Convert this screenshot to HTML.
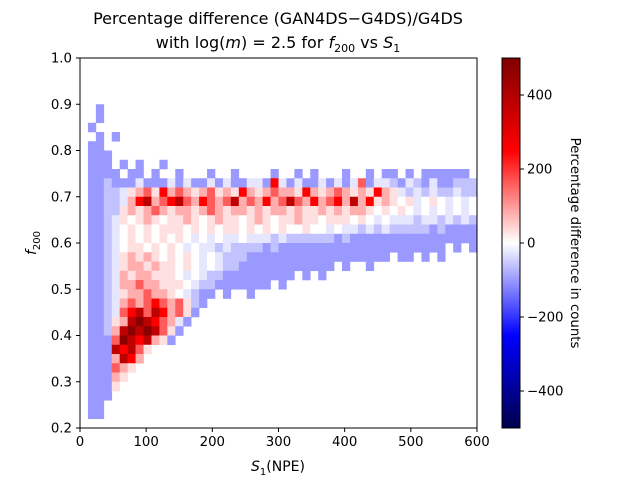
<!DOCTYPE html>
<html><head><meta charset="utf-8">
<style>
html,body{margin:0;padding:0;background:#fff;}
svg{display:block;font-family:"DejaVu Sans","Liberation Sans",sans-serif;}
</style></head>
<body>
<svg id="chart" width="640" height="480" viewBox="0 0 640 480" xmlns="http://www.w3.org/2000/svg">
<rect width="640" height="480" fill="#fff"/>
<g id="title" font-size="16" text-anchor="middle" fill="#000">
<text x="278" y="24">Percentage difference (GAN4DS−G4DS)/G4DS</text>
<text x="278" y="48">with log(<tspan font-style="italic">m</tspan>) = 2.5 for <tspan font-style="italic">f</tspan><tspan font-size="11" dy="4">200</tspan><tspan dy="-4"> vs </tspan><tspan font-style="italic">S</tspan><tspan font-size="11" dy="4">1</tspan></text>
</g>
<g id="cells"></g>
<rect x="80" y="58" width="397" height="370" fill="none" stroke="#000" stroke-width="1"/>
<g id="xticks" font-size="13.3" text-anchor="middle"></g>
<g id="yticks" font-size="13.3" text-anchor="end"></g>
<text x="278" y="471" font-size="14" text-anchor="middle"><tspan font-style="italic">S</tspan><tspan font-size="10" dy="4">1</tspan><tspan dy="-4">(NPE)</tspan></text>
<text transform="translate(36,243) rotate(-90)" font-size="14" text-anchor="middle"><tspan font-style="italic">f</tspan><tspan font-size="10" dy="4">200</tspan></text>
<defs><linearGradient id="cbg" x1="0" y1="1" x2="0" y2="0"></linearGradient></defs>
<rect x="502" y="58" width="18" height="370" fill="url(#cbg)" stroke="#000" stroke-width="1"/>
<g id="cticks" font-size="13.3"></g>
<text transform="translate(571,243) rotate(90)" font-size="13.3" text-anchor="middle">Percentage difference in counts</text>
</svg>
<script>
const xTicks=[0,100,200,300,400,500,600];
const yTicks=[0.2,0.3,0.4,0.5,0.6,0.7,0.8,0.9,1.0];
const cbTicks=[-400,-200,0,200,400];
const levelCodes=['B','b','c','w','p','q','r','R','d','D'];
const levelValues=[-100,-60,-25,0,30,80,160,250,380,480];
const binWidthS1=12, binHeightF=0.02;
const rows=[
"","","","","",
"..B",
"..B",
".B",
"..B.B",
".BB",
".BBB",
".BBB.B.B..B",
".BBBB.BB.B..B...B..B....B..B.B...B..B.BB.B.BBBBBB",
".BBbBBBcBBBcBcBBcBcBBccBRcBcBBcBcBcrBccbBcbBcBBbbb",
".BBbbcpqrpRqrqpqrpqpRqpqrqqpRqpqrqpqpRqpcbcbcbbcbb",
".BBbbcqRdqrRdrqRrqrdqrqRqrdrqRqrRqdqRpqpwpcwpwcwcw",
".BBbbpqpqrqpqqpqrqpqqpqpqqpqppqpqpqqpwpwpwcwcwcwcw",
".BBbcpwpqpwppqpwpqppwpqpwppqppwpppwpwcwcccbccbcbcb",
".BBbcwpwpwpppwpwpwppwpwpwpwwpwwcwccbcbcbbbbbBbBBBBB",
".BBbcwpwpwpwpwcwcwccwcccbcbbbbbbBbBBBBBBBBBBBBBBBB",
".BBbcwppwpwpwcwccbcbbbbBbBBBBBBBBBBBBBBBBBBBBB.B.B",
".BBbcpqpqpwpwpwcwcbbbBBBBBBBBBBBBBBBBBB.BB.B.B",
".BBbcpqqpqppwpwcwcbbBBBBBBBBBBBB.B..B",
".BBbcqpqqpppwcwcbbBBBBBBBBB.B.B",
".BBbcqqrqqpppwcbbBBBBBBB.B",
".BBbcpqqrqqpwcbBB.B..B",
".BBbcqrqrRrqrpbB",
".BBbcrRdrdRqrpB",
".BBbpqdDdRrqcB",
".BBbqdDdDdrpB",
".BBBrDdRdqpB",
".BBBdRdrp",
".BBBqdRq",
".BBBrqp",
".BBBqp",
".BBBp",
".BBB",
".BB",
".BB",
""
];
const X0=80,X1=477,Y0=428,Y1=58;
function xScale(s){return X0+(s-0)/(600-0)*(X1-X0);}
function yScale(f){return Y0-(f-0.2)/(1.0-0.2)*(Y0-Y1);}
function cScale(v){return 243-v/500*185;}
function seismic(v){
  let t=Math.max(-1,Math.min(1,v/500));let r,g,b;
  if(t<=-0.5){let u=(t+1)/0.5;r=0;g=0;b=0.3+0.7*u;}
  else if(t<=0){let u=(t+0.5)/0.5;r=u;g=u;b=1;}
  else if(t<=0.5){let u=t/0.5;r=1;g=1-u;b=1-u;}
  else{let u=(t-0.5)/0.5;r=1-0.5*u;g=0;b=0;}
  return `rgb(${Math.round(r*255)},${Math.round(g*255)},${Math.round(b*255)})`;
}
const NS="http://www.w3.org/2000/svg";
const cells=document.getElementById('cells');
rows.forEach((row,j)=>{
  const fTop=1.0-binHeightF*j, fBot=fTop-binHeightF;
  for(let i=0;i<row.length&&i<50;i++){
    const k=levelCodes.indexOf(row[i]); if(k<0) continue;
    const v=levelValues[k];
    const r=document.createElementNS(NS,'rect');
    const xa=xScale(i*binWidthS1), xb=xScale((i+1)*binWidthS1);
    r.setAttribute('x',xa);r.setAttribute('y',yScale(fTop));
    r.setAttribute('width',xb-xa+0.3);r.setAttribute('height',yScale(fBot)-yScale(fTop)+0.3);
    r.setAttribute('fill',seismic(v));
    
    
    cells.appendChild(r);
  }
});
const xt=document.getElementById('xticks');
xTicks.forEach(t=>{
  const x=xScale(t);
  const l=document.createElementNS(NS,'line');
  l.setAttribute('x1',x);l.setAttribute('x2',x);l.setAttribute('y1',428);l.setAttribute('y2',432);l.setAttribute('stroke','#000');
  
  
  xt.appendChild(l);
  const tx=document.createElementNS(NS,'text');
  tx.setAttribute('x',x);tx.setAttribute('y',446);tx.textContent=t;
  
  
  xt.appendChild(tx);
});
const yt=document.getElementById('yticks');
yTicks.forEach(t=>{
  const y=yScale(t);
  const l=document.createElementNS(NS,'line');
  l.setAttribute('x1',76);l.setAttribute('x2',80);l.setAttribute('y1',y);l.setAttribute('y2',y);l.setAttribute('stroke','#000');
  
  
  yt.appendChild(l);
  const tx=document.createElementNS(NS,'text');
  tx.setAttribute('x',72);tx.setAttribute('y',y+4.5);tx.textContent=t.toFixed(1);
  
  
  yt.appendChild(tx);
});
const grad=document.getElementById('cbg');
for(let i=0;i<=40;i++){
  const v=-500+i*25;
  const s=document.createElementNS(NS,'stop');
  s.setAttribute('offset',(i/40));s.setAttribute('stop-color',seismic(v));
  grad.appendChild(s);
}
const ct=document.getElementById('cticks');
cbTicks.forEach(t=>{
  const y=cScale(t);
  const l=document.createElementNS(NS,'line');
  l.setAttribute('x1',520);l.setAttribute('x2',524);l.setAttribute('y1',y);l.setAttribute('y2',y);l.setAttribute('stroke','#000');
  
  
  ct.appendChild(l);
  const tx=document.createElementNS(NS,'text');
  tx.setAttribute('x',527);tx.setAttribute('y',y+4.5);tx.textContent=t<0?'−'+(-t):t;
  
  
  ct.appendChild(tx);
});
</script>
</body></html>
